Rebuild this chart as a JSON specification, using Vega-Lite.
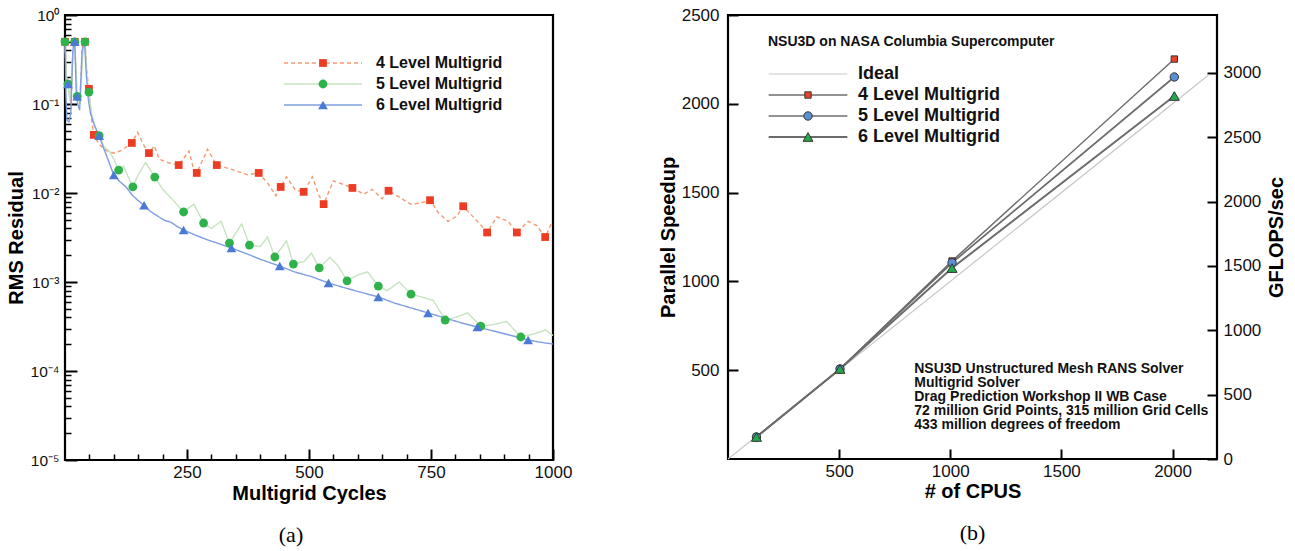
{
  "$schema": "https://vega.github.io/schema/vega-lite/v6.json",
  "background": "#ffffff",
  "padding": {"left": 4, "top": 4, "right": 0, "bottom": 0},
  "spacing": 175,
  "bounds": "flush",
  "datasets": {
    "convLines": [
      {"series": "4 Level Multigrid", "cycle": 0, "rms": 0.5},
      {"series": "4 Level Multigrid", "cycle": 3, "rms": 0.2},
      {"series": "4 Level Multigrid", "cycle": 7, "rms": 0.15},
      {"series": "4 Level Multigrid", "cycle": 12, "rms": 0.1},
      {"series": "4 Level Multigrid", "cycle": 17, "rms": 0.5},
      {"series": "4 Level Multigrid", "cycle": 20, "rms": 0.5},
      {"series": "4 Level Multigrid", "cycle": 24, "rms": 0.14},
      {"series": "4 Level Multigrid", "cycle": 30, "rms": 0.1},
      {"series": "4 Level Multigrid", "cycle": 36, "rms": 0.45},
      {"series": "4 Level Multigrid", "cycle": 41, "rms": 0.5},
      {"series": "4 Level Multigrid", "cycle": 45, "rms": 0.22},
      {"series": "4 Level Multigrid", "cycle": 49, "rms": 0.148},
      {"series": "4 Level Multigrid", "cycle": 54, "rms": 0.07},
      {"series": "4 Level Multigrid", "cycle": 59, "rms": 0.045},
      {"series": "4 Level Multigrid", "cycle": 70, "rms": 0.035},
      {"series": "4 Level Multigrid", "cycle": 85, "rms": 0.03},
      {"series": "4 Level Multigrid", "cycle": 100, "rms": 0.028},
      {"series": "4 Level Multigrid", "cycle": 115, "rms": 0.03},
      {"series": "4 Level Multigrid", "cycle": 137, "rms": 0.0365},
      {"series": "4 Level Multigrid", "cycle": 149, "rms": 0.048},
      {"series": "4 Level Multigrid", "cycle": 162, "rms": 0.034},
      {"series": "4 Level Multigrid", "cycle": 172, "rms": 0.0281},
      {"series": "4 Level Multigrid", "cycle": 183, "rms": 0.034},
      {"series": "4 Level Multigrid", "cycle": 193, "rms": 0.024},
      {"series": "4 Level Multigrid", "cycle": 210, "rms": 0.022},
      {"series": "4 Level Multigrid", "cycle": 233, "rms": 0.0206},
      {"series": "4 Level Multigrid", "cycle": 254, "rms": 0.0296},
      {"series": "4 Level Multigrid", "cycle": 262, "rms": 0.02},
      {"series": "4 Level Multigrid", "cycle": 270, "rms": 0.0168},
      {"series": "4 Level Multigrid", "cycle": 292, "rms": 0.031},
      {"series": "4 Level Multigrid", "cycle": 311, "rms": 0.0206},
      {"series": "4 Level Multigrid", "cycle": 339, "rms": 0.0186},
      {"series": "4 Level Multigrid", "cycle": 374, "rms": 0.016},
      {"series": "4 Level Multigrid", "cycle": 397, "rms": 0.0168},
      {"series": "4 Level Multigrid", "cycle": 415, "rms": 0.013},
      {"series": "4 Level Multigrid", "cycle": 432, "rms": 0.0093},
      {"series": "4 Level Multigrid", "cycle": 442, "rms": 0.0117},
      {"series": "4 Level Multigrid", "cycle": 454, "rms": 0.0152},
      {"series": "4 Level Multigrid", "cycle": 472, "rms": 0.0108},
      {"series": "4 Level Multigrid", "cycle": 489, "rms": 0.0103},
      {"series": "4 Level Multigrid", "cycle": 507, "rms": 0.0152},
      {"series": "4 Level Multigrid", "cycle": 520, "rms": 0.0095},
      {"series": "4 Level Multigrid", "cycle": 530, "rms": 0.0075},
      {"series": "4 Level Multigrid", "cycle": 550, "rms": 0.0137},
      {"series": "4 Level Multigrid", "cycle": 570, "rms": 0.0125},
      {"series": "4 Level Multigrid", "cycle": 589, "rms": 0.0114},
      {"series": "4 Level Multigrid", "cycle": 612, "rms": 0.0097},
      {"series": "4 Level Multigrid", "cycle": 629, "rms": 0.011},
      {"series": "4 Level Multigrid", "cycle": 650, "rms": 0.0086},
      {"series": "4 Level Multigrid", "cycle": 663, "rms": 0.0106},
      {"series": "4 Level Multigrid", "cycle": 685, "rms": 0.009},
      {"series": "4 Level Multigrid", "cycle": 708, "rms": 0.0075},
      {"series": "4 Level Multigrid", "cycle": 728, "rms": 0.0077},
      {"series": "4 Level Multigrid", "cycle": 748, "rms": 0.0083},
      {"series": "4 Level Multigrid", "cycle": 765, "rms": 0.006},
      {"series": "4 Level Multigrid", "cycle": 785, "rms": 0.0048},
      {"series": "4 Level Multigrid", "cycle": 803, "rms": 0.0055},
      {"series": "4 Level Multigrid", "cycle": 816, "rms": 0.0071},
      {"series": "4 Level Multigrid", "cycle": 835, "rms": 0.0055},
      {"series": "4 Level Multigrid", "cycle": 850, "rms": 0.0045},
      {"series": "4 Level Multigrid", "cycle": 865, "rms": 0.0036},
      {"series": "4 Level Multigrid", "cycle": 885, "rms": 0.0054},
      {"series": "4 Level Multigrid", "cycle": 908, "rms": 0.0048},
      {"series": "4 Level Multigrid", "cycle": 926, "rms": 0.0036},
      {"series": "4 Level Multigrid", "cycle": 949, "rms": 0.0048},
      {"series": "4 Level Multigrid", "cycle": 967, "rms": 0.0043},
      {"series": "4 Level Multigrid", "cycle": 984, "rms": 0.0032},
      {"series": "4 Level Multigrid", "cycle": 998, "rms": 0.0047},

      {"series": "5 Level Multigrid", "cycle": 0, "rms": 0.5},
      {"series": "5 Level Multigrid", "cycle": 3, "rms": 0.2},
      {"series": "5 Level Multigrid", "cycle": 6, "rms": 0.168},
      {"series": "5 Level Multigrid", "cycle": 10, "rms": 0.11},
      {"series": "5 Level Multigrid", "cycle": 16, "rms": 0.35},
      {"series": "5 Level Multigrid", "cycle": 20, "rms": 0.5},
      {"series": "5 Level Multigrid", "cycle": 25, "rms": 0.12},
      {"series": "5 Level Multigrid", "cycle": 31, "rms": 0.1},
      {"series": "5 Level Multigrid", "cycle": 37, "rms": 0.4},
      {"series": "5 Level Multigrid", "cycle": 41, "rms": 0.5},
      {"series": "5 Level Multigrid", "cycle": 45, "rms": 0.2},
      {"series": "5 Level Multigrid", "cycle": 49, "rms": 0.136},
      {"series": "5 Level Multigrid", "cycle": 55, "rms": 0.075},
      {"series": "5 Level Multigrid", "cycle": 62, "rms": 0.055},
      {"series": "5 Level Multigrid", "cycle": 70, "rms": 0.044},
      {"series": "5 Level Multigrid", "cycle": 80, "rms": 0.033},
      {"series": "5 Level Multigrid", "cycle": 90, "rms": 0.03},
      {"series": "5 Level Multigrid", "cycle": 100, "rms": 0.024},
      {"series": "5 Level Multigrid", "cycle": 110, "rms": 0.0181},
      {"series": "5 Level Multigrid", "cycle": 120, "rms": 0.02},
      {"series": "5 Level Multigrid", "cycle": 130, "rms": 0.015},
      {"series": "5 Level Multigrid", "cycle": 139, "rms": 0.0117},
      {"series": "5 Level Multigrid", "cycle": 150, "rms": 0.016},
      {"series": "5 Level Multigrid", "cycle": 165, "rms": 0.022},
      {"series": "5 Level Multigrid", "cycle": 184, "rms": 0.0151},
      {"series": "5 Level Multigrid", "cycle": 200, "rms": 0.011},
      {"series": "5 Level Multigrid", "cycle": 220, "rms": 0.0085},
      {"series": "5 Level Multigrid", "cycle": 243, "rms": 0.00612},
      {"series": "5 Level Multigrid", "cycle": 264, "rms": 0.0075},
      {"series": "5 Level Multigrid", "cycle": 284, "rms": 0.0046},
      {"series": "5 Level Multigrid", "cycle": 300, "rms": 0.004},
      {"series": "5 Level Multigrid", "cycle": 320, "rms": 0.0048},
      {"series": "5 Level Multigrid", "cycle": 337, "rms": 0.00274},
      {"series": "5 Level Multigrid", "cycle": 362, "rms": 0.0045},
      {"series": "5 Level Multigrid", "cycle": 378, "rms": 0.0026},
      {"series": "5 Level Multigrid", "cycle": 400, "rms": 0.0025},
      {"series": "5 Level Multigrid", "cycle": 415, "rms": 0.0032},
      {"series": "5 Level Multigrid", "cycle": 430, "rms": 0.00191},
      {"series": "5 Level Multigrid", "cycle": 454, "rms": 0.0029},
      {"series": "5 Level Multigrid", "cycle": 468, "rms": 0.00159},
      {"series": "5 Level Multigrid", "cycle": 490, "rms": 0.0017},
      {"series": "5 Level Multigrid", "cycle": 505, "rms": 0.0021},
      {"series": "5 Level Multigrid", "cycle": 521, "rms": 0.00144},
      {"series": "5 Level Multigrid", "cycle": 543, "rms": 0.0019},
      {"series": "5 Level Multigrid", "cycle": 560, "rms": 0.0015},
      {"series": "5 Level Multigrid", "cycle": 578, "rms": 0.00103},
      {"series": "5 Level Multigrid", "cycle": 600, "rms": 0.0012},
      {"series": "5 Level Multigrid", "cycle": 620, "rms": 0.0013},
      {"series": "5 Level Multigrid", "cycle": 642, "rms": 0.0009},
      {"series": "5 Level Multigrid", "cycle": 660, "rms": 0.0008},
      {"series": "5 Level Multigrid", "cycle": 685, "rms": 0.001},
      {"series": "5 Level Multigrid", "cycle": 709, "rms": 0.00073},
      {"series": "5 Level Multigrid", "cycle": 730, "rms": 0.00068},
      {"series": "5 Level Multigrid", "cycle": 755, "rms": 0.00062},
      {"series": "5 Level Multigrid", "cycle": 779, "rms": 0.000374},
      {"series": "5 Level Multigrid", "cycle": 800, "rms": 0.0004},
      {"series": "5 Level Multigrid", "cycle": 825, "rms": 0.00045},
      {"series": "5 Level Multigrid", "cycle": 852, "rms": 0.00032},
      {"series": "5 Level Multigrid", "cycle": 875, "rms": 0.00033},
      {"series": "5 Level Multigrid", "cycle": 905, "rms": 0.00036},
      {"series": "5 Level Multigrid", "cycle": 934, "rms": 0.000241},
      {"series": "5 Level Multigrid", "cycle": 960, "rms": 0.00026},
      {"series": "5 Level Multigrid", "cycle": 985, "rms": 0.00029},
      {"series": "5 Level Multigrid", "cycle": 1000, "rms": 0.00025},

      {"series": "6 Level Multigrid", "cycle": 0, "rms": 0.5},
      {"series": "6 Level Multigrid", "cycle": 2, "rms": 0.12},
      {"series": "6 Level Multigrid", "cycle": 4, "rms": 0.065},
      {"series": "6 Level Multigrid", "cycle": 8, "rms": 0.063},
      {"series": "6 Level Multigrid", "cycle": 12, "rms": 0.08},
      {"series": "6 Level Multigrid", "cycle": 16, "rms": 0.4},
      {"series": "6 Level Multigrid", "cycle": 20, "rms": 0.5},
      {"series": "6 Level Multigrid", "cycle": 23, "rms": 0.14},
      {"series": "6 Level Multigrid", "cycle": 26, "rms": 0.1},
      {"series": "6 Level Multigrid", "cycle": 30, "rms": 0.085},
      {"series": "6 Level Multigrid", "cycle": 35, "rms": 0.4},
      {"series": "6 Level Multigrid", "cycle": 40, "rms": 0.5},
      {"series": "6 Level Multigrid", "cycle": 44, "rms": 0.2},
      {"series": "6 Level Multigrid", "cycle": 48, "rms": 0.11},
      {"series": "6 Level Multigrid", "cycle": 52, "rms": 0.08},
      {"series": "6 Level Multigrid", "cycle": 60, "rms": 0.058},
      {"series": "6 Level Multigrid", "cycle": 70, "rms": 0.044},
      {"series": "6 Level Multigrid", "cycle": 80, "rms": 0.031},
      {"series": "6 Level Multigrid", "cycle": 90, "rms": 0.0223},
      {"series": "6 Level Multigrid", "cycle": 100, "rms": 0.0159},
      {"series": "6 Level Multigrid", "cycle": 112, "rms": 0.0135},
      {"series": "6 Level Multigrid", "cycle": 125, "rms": 0.0117},
      {"series": "6 Level Multigrid", "cycle": 139, "rms": 0.0093},
      {"series": "6 Level Multigrid", "cycle": 150, "rms": 0.0082},
      {"series": "6 Level Multigrid", "cycle": 162, "rms": 0.0073},
      {"series": "6 Level Multigrid", "cycle": 175, "rms": 0.0062},
      {"series": "6 Level Multigrid", "cycle": 190, "rms": 0.0055},
      {"series": "6 Level Multigrid", "cycle": 205, "rms": 0.0049},
      {"series": "6 Level Multigrid", "cycle": 217, "rms": 0.0047},
      {"series": "6 Level Multigrid", "cycle": 230, "rms": 0.0042},
      {"series": "6 Level Multigrid", "cycle": 243, "rms": 0.00384},
      {"series": "6 Level Multigrid", "cycle": 265, "rms": 0.0034},
      {"series": "6 Level Multigrid", "cycle": 290, "rms": 0.003},
      {"series": "6 Level Multigrid", "cycle": 315, "rms": 0.0027},
      {"series": "6 Level Multigrid", "cycle": 341, "rms": 0.00241},
      {"series": "6 Level Multigrid", "cycle": 370, "rms": 0.0021},
      {"series": "6 Level Multigrid", "cycle": 400, "rms": 0.0018},
      {"series": "6 Level Multigrid", "cycle": 440, "rms": 0.00151},
      {"series": "6 Level Multigrid", "cycle": 470, "rms": 0.0013},
      {"series": "6 Level Multigrid", "cycle": 505, "rms": 0.00115},
      {"series": "6 Level Multigrid", "cycle": 540, "rms": 0.000975},
      {"series": "6 Level Multigrid", "cycle": 570, "rms": 0.00087},
      {"series": "6 Level Multigrid", "cycle": 605, "rms": 0.00077},
      {"series": "6 Level Multigrid", "cycle": 642, "rms": 0.00068},
      {"series": "6 Level Multigrid", "cycle": 675, "rms": 0.00058},
      {"series": "6 Level Multigrid", "cycle": 710, "rms": 0.00051},
      {"series": "6 Level Multigrid", "cycle": 744, "rms": 0.000449},
      {"series": "6 Level Multigrid", "cycle": 775, "rms": 0.0004},
      {"series": "6 Level Multigrid", "cycle": 810, "rms": 0.00035},
      {"series": "6 Level Multigrid", "cycle": 845, "rms": 0.000312},
      {"series": "6 Level Multigrid", "cycle": 880, "rms": 0.00028},
      {"series": "6 Level Multigrid", "cycle": 915, "rms": 0.00025},
      {"series": "6 Level Multigrid", "cycle": 949, "rms": 0.000223},
      {"series": "6 Level Multigrid", "cycle": 975, "rms": 0.00021},
      {"series": "6 Level Multigrid", "cycle": 1000, "rms": 0.000201}
    ],
    "convMarkers": [
      {"series": "4 Level Multigrid", "cycle": 0, "rms": 0.5},
      {"series": "4 Level Multigrid", "cycle": 20, "rms": 0.5},
      {"series": "4 Level Multigrid", "cycle": 41, "rms": 0.5},
      {"series": "4 Level Multigrid", "cycle": 49, "rms": 0.148},
      {"series": "4 Level Multigrid", "cycle": 59, "rms": 0.045},
      {"series": "4 Level Multigrid", "cycle": 137, "rms": 0.0365},
      {"series": "4 Level Multigrid", "cycle": 172, "rms": 0.0281},
      {"series": "4 Level Multigrid", "cycle": 233, "rms": 0.0206},
      {"series": "4 Level Multigrid", "cycle": 270, "rms": 0.0168},
      {"series": "4 Level Multigrid", "cycle": 311, "rms": 0.0206},
      {"series": "4 Level Multigrid", "cycle": 397, "rms": 0.0168},
      {"series": "4 Level Multigrid", "cycle": 442, "rms": 0.0117},
      {"series": "4 Level Multigrid", "cycle": 489, "rms": 0.0103},
      {"series": "4 Level Multigrid", "cycle": 530, "rms": 0.0075},
      {"series": "4 Level Multigrid", "cycle": 589, "rms": 0.0114},
      {"series": "4 Level Multigrid", "cycle": 663, "rms": 0.0106},
      {"series": "4 Level Multigrid", "cycle": 748, "rms": 0.0083},
      {"series": "4 Level Multigrid", "cycle": 816, "rms": 0.0071},
      {"series": "4 Level Multigrid", "cycle": 865, "rms": 0.0036},
      {"series": "4 Level Multigrid", "cycle": 926, "rms": 0.0036},
      {"series": "4 Level Multigrid", "cycle": 984, "rms": 0.0032},
      {"series": "5 Level Multigrid", "cycle": 0, "rms": 0.5},
      {"series": "5 Level Multigrid", "cycle": 20, "rms": 0.5},
      {"series": "5 Level Multigrid", "cycle": 41, "rms": 0.5},
      {"series": "5 Level Multigrid", "cycle": 6, "rms": 0.168},
      {"series": "5 Level Multigrid", "cycle": 25, "rms": 0.122},
      {"series": "5 Level Multigrid", "cycle": 49, "rms": 0.136},
      {"series": "5 Level Multigrid", "cycle": 70, "rms": 0.044},
      {"series": "5 Level Multigrid", "cycle": 110, "rms": 0.0181},
      {"series": "5 Level Multigrid", "cycle": 139, "rms": 0.0117},
      {"series": "5 Level Multigrid", "cycle": 184, "rms": 0.0151},
      {"series": "5 Level Multigrid", "cycle": 243, "rms": 0.00612},
      {"series": "5 Level Multigrid", "cycle": 284, "rms": 0.0046},
      {"series": "5 Level Multigrid", "cycle": 337, "rms": 0.00274},
      {"series": "5 Level Multigrid", "cycle": 378, "rms": 0.0026},
      {"series": "5 Level Multigrid", "cycle": 430, "rms": 0.00191},
      {"series": "5 Level Multigrid", "cycle": 468, "rms": 0.00159},
      {"series": "5 Level Multigrid", "cycle": 521, "rms": 0.00144},
      {"series": "5 Level Multigrid", "cycle": 578, "rms": 0.00103},
      {"series": "5 Level Multigrid", "cycle": 642, "rms": 0.0009},
      {"series": "5 Level Multigrid", "cycle": 709, "rms": 0.00073},
      {"series": "5 Level Multigrid", "cycle": 779, "rms": 0.000374},
      {"series": "5 Level Multigrid", "cycle": 852, "rms": 0.00032},
      {"series": "5 Level Multigrid", "cycle": 934, "rms": 0.000241},
      {"series": "6 Level Multigrid", "cycle": 20, "rms": 0.5},
      {"series": "6 Level Multigrid", "cycle": 6, "rms": 0.168},
      {"series": "6 Level Multigrid", "cycle": 25, "rms": 0.122},
      {"series": "6 Level Multigrid", "cycle": 70, "rms": 0.044},
      {"series": "6 Level Multigrid", "cycle": 100, "rms": 0.0159},
      {"series": "6 Level Multigrid", "cycle": 162, "rms": 0.0073},
      {"series": "6 Level Multigrid", "cycle": 243, "rms": 0.00384},
      {"series": "6 Level Multigrid", "cycle": 341, "rms": 0.00241},
      {"series": "6 Level Multigrid", "cycle": 440, "rms": 0.00151},
      {"series": "6 Level Multigrid", "cycle": 540, "rms": 0.000975},
      {"series": "6 Level Multigrid", "cycle": 642, "rms": 0.00068},
      {"series": "6 Level Multigrid", "cycle": 744, "rms": 0.000449},
      {"series": "6 Level Multigrid", "cycle": 845, "rms": 0.000312},
      {"series": "6 Level Multigrid", "cycle": 949, "rms": 0.000223}
    ],
    "scaling": [
      {"series": "Ideal", "cpus": 0, "speedup": 0},
      {"series": "Ideal", "cpus": 2165, "speedup": 2165},
      {"series": "4 Level Multigrid", "cpus": 128, "speedup": 124},
      {"series": "4 Level Multigrid", "cpus": 504, "speedup": 507},
      {"series": "4 Level Multigrid", "cpus": 1008, "speedup": 1115},
      {"series": "4 Level Multigrid", "cpus": 2008, "speedup": 2252},
      {"series": "5 Level Multigrid", "cpus": 128, "speedup": 124},
      {"series": "5 Level Multigrid", "cpus": 504, "speedup": 507},
      {"series": "5 Level Multigrid", "cpus": 1008, "speedup": 1105},
      {"series": "5 Level Multigrid", "cpus": 2008, "speedup": 2151},
      {"series": "6 Level Multigrid", "cpus": 128, "speedup": 124},
      {"series": "6 Level Multigrid", "cpus": 504, "speedup": 507},
      {"series": "6 Level Multigrid", "cpus": 1008, "speedup": 1075},
      {"series": "6 Level Multigrid", "cpus": 2008, "speedup": 2044}
    ]
  },
  "hconcat": [
    {
      "width": 488,
      "height": 445,
      "title": {"text": "(a)", "orient": "bottom", "anchor": "middle", "font": "Liberation Serif", "fontSize": 22, "fontWeight": "normal", "color": "#000000", "offset": 22, "dx": -18},
      "layer": [
        {
          "data": {"name": "convLines"},
          "mark": {"type": "line", "strokeWidth": 1.4},
          "encoding": {
            "x": {"field": "cycle", "type": "quantitative", "scale": {"domain": [0, 1000], "nice": false},
              "axis": {"orient": "bottom", "values": [250, 500, 750, 1000], "format": "d", "offset": -11, "ticks": true, "tickSize": 11, "domain": false, "grid": false, "labelPadding": 4, "title": "Multigrid Cycles", "titlePadding": 3}},
            "y": {"field": "rms", "type": "quantitative", "scale": {"type": "log", "domain": [0.00001, 1], "nice": false},
              "axis": {"orient": "left", "values": [0.00001, 0.0001, 0.001, 0.01, 0.1, 1], "offset": -12, "ticks": true, "tickSize": 12, "domain": false, "grid": false, "labelPadding": 6, "labelFontSize": 15.5,
                "labelExpr": "datum.value > 0.5 ? '10⁰' : datum.value > 0.05 ? '10⁻¹' : datum.value > 0.005 ? '10⁻²' : datum.value > 0.0005 ? '10⁻³' : datum.value > 0.00005 ? '10⁻⁴' : '10⁻⁵'",
                "title": "RMS Residual", "titlePadding": 4}},
            "color": {"field": "series", "type": "nominal",
              "scale": {"domain": ["4 Level Multigrid", "5 Level Multigrid", "6 Level Multigrid"], "range": ["#f59a70", "#c6e4bf", "#7f9ee2"]},
              "legend": {"orient": "none", "legendX": 221, "legendY": 40, "padding": 0, "title": null, "labelColor": "transparent", "labelFontSize": 16, "labelFontWeight": "bold", "symbolType": "M-9.2,0H9.2", "symbolSize": 72, "symbolStrokeWidth": 1.5, "symbolOffset": 29, "labelOffset": 45, "rowPadding": 5, "symbolOpacity": 1}},
            "strokeDash": {"field": "series", "type": "nominal",
              "scale": {"domain": ["4 Level Multigrid", "5 Level Multigrid", "6 Level Multigrid"], "range": [[4, 3], [1, 0], [1, 0]]},
              "legend": {"orient": "none", "legendX": 221, "legendY": 40, "padding": 0, "title": null, "labelColor": "transparent", "labelFontSize": 16, "labelFontWeight": "bold", "symbolType": "M-9.2,0H9.2", "symbolSize": 72, "symbolStrokeWidth": 1.5, "symbolOffset": 29, "labelOffset": 45, "rowPadding": 5, "symbolOpacity": 1}}
          }
        },
        {
          "data": {"name": "convMarkers"},
          "mark": {"type": "point", "filled": true, "opacity": 1, "strokeWidth": 0},
          "encoding": {
            "x": {"field": "cycle", "type": "quantitative", "scale": {"domain": [0, 1000], "nice": false},
              "axis": {"orient": "bottom", "values": [50, 100, 150, 200, 300, 350, 400, 450, 550, 600, 650, 700, 800, 850, 900, 950], "offset": -6, "ticks": true, "tickSize": 6, "tickWidth": 1.5, "labels": false, "domain": false, "grid": false, "title": null}},
            "y": {"field": "rms", "type": "quantitative", "scale": {"type": "log", "domain": [0.00001, 1], "nice": false},
              "axis": {"orient": "left", "values": [0.00002, 0.00003, 0.00004, 0.00005, 0.00006, 0.00007, 0.00008, 0.00009, 0.0002, 0.0003, 0.0004, 0.0005, 0.0006, 0.0007, 0.0008, 0.0009, 0.002, 0.003, 0.004, 0.005, 0.006, 0.007, 0.008, 0.009, 0.02, 0.03, 0.04, 0.05, 0.06, 0.07, 0.08, 0.09, 0.2, 0.3, 0.4, 0.5, 0.6, 0.7, 0.8, 0.9], "offset": -6, "ticks": true, "tickSize": 6, "tickWidth": 1.5, "labels": false, "domain": false, "grid": false, "title": null}},
            "color": {"field": "series", "type": "nominal",
              "scale": {"domain": ["4 Level Multigrid", "5 Level Multigrid", "6 Level Multigrid"], "range": ["#ee3b23", "#2eb34b", "#4a7ad6"]},
              "legend": {"orient": "none", "legendX": 221, "legendY": 40, "padding": 0, "title": null, "labelColor": "#111111", "labelFontSize": 16, "labelFontWeight": "bold", "symbolSize": 72, "symbolStrokeWidth": 0, "symbolOffset": 29, "labelOffset": 45, "rowPadding": 5, "symbolOpacity": 1}},
            "shape": {"field": "series", "type": "nominal",
              "scale": {"domain": ["4 Level Multigrid", "5 Level Multigrid", "6 Level Multigrid"], "range": ["square", "circle", "triangle-up"]},
              "legend": {"orient": "none", "legendX": 221, "legendY": 40, "padding": 0, "title": null, "labelColor": "#111111", "labelFontSize": 16, "labelFontWeight": "bold", "symbolSize": 72, "symbolStrokeWidth": 0, "symbolOffset": 29, "labelOffset": 45, "rowPadding": 5, "symbolOpacity": 1}},
            "size": {"field": "series", "type": "nominal",
              "scale": {"domain": ["4 Level Multigrid", "5 Level Multigrid", "6 Level Multigrid"], "range": [60, 95, 55]}, "legend": null}
          }
        }
      ],
      "resolve": {
        "scale": {"color": "independent", "shape": "independent", "strokeDash": "independent", "size": "independent"},
        "axis": {"x": "independent", "y": "independent"},
        "legend": {"color": "independent", "shape": "independent", "strokeDash": "independent", "size": "independent"}
      }
    },
    {
      "width": 489,
      "height": 444,
      "title": {"text": "(b)", "orient": "bottom", "anchor": "middle", "font": "Liberation Serif", "fontSize": 22, "fontWeight": "normal", "color": "#000000", "offset": 22},
      "layer": [
        {
          "data": {"name": "scaling"},
          "mark": {"type": "line"},
          "encoding": {
            "x": {"field": "cpus", "type": "quantitative", "scale": {"domain": [0, 2200], "nice": false},
              "axis": {"orient": "bottom", "values": [500, 1000, 1500, 2000], "format": "d", "offset": -10, "ticks": true, "tickSize": 10, "domain": false, "grid": false, "labelPadding": 4, "title": "# of CPUS", "titlePadding": 2}},
            "y": {"field": "speedup", "type": "quantitative", "scale": {"domain": [0, 2500], "nice": false},
              "axis": {"orient": "left", "values": [500, 1000, 1500, 2000, 2500], "format": "d", "offset": -10, "ticks": true, "tickSize": 10, "domain": false, "grid": false, "labelPadding": 9, "title": "Parallel Speedup", "titlePadding": 3}},
            "color": {"field": "series", "type": "nominal",
              "scale": {"domain": ["Ideal", "4 Level Multigrid", "5 Level Multigrid", "6 Level Multigrid"], "range": ["#c8c8c8", "#6c6c6c", "#6c6c6c", "#6c6c6c"]},
              "legend": {"orient": "none", "legendX": 40, "legendY": 20, "padding": 0, "title": "NSU3D on NASA Columbia Supercomputer", "titleLimit": 0, "titleFontSize": 14, "titleFontWeight": "bold", "titleColor": "transparent", "titlePadding": 16, "labelColor": "transparent", "labelFontSize": 18, "labelFontWeight": "bold", "labelLimit": 0, "symbolType": "M-7.5,0H7.5", "symbolSize": 110, "symbolStrokeWidth": 2, "symbolOffset": 31, "labelOffset": 41, "rowPadding": 3, "symbolOpacity": 1}},
            "strokeWidth": {"field": "series", "type": "nominal",
              "scale": {"domain": ["Ideal", "4 Level Multigrid", "5 Level Multigrid", "6 Level Multigrid"], "range": [1.2, 2, 2, 2]}, "legend": null}
          }
        },
        {
          "data": {"name": "scaling"},
          "transform": [{"filter": "datum.series !== 'Ideal'"}],
          "mark": {"type": "point", "filled": true, "opacity": 1, "strokeWidth": 1},
          "encoding": {
            "x": {"field": "cpus", "type": "quantitative", "axis": null},
            "y": {"field": "speedup", "type": "quantitative", "scale": {"domain": [0, 2500], "nice": false}, "axis": null},
            "color": {"field": "series", "type": "nominal",
              "scale": {"domain": ["Ideal", "4 Level Multigrid", "5 Level Multigrid", "6 Level Multigrid"], "range": ["transparent", "#e8432c", "#5b8fd6", "#23a84b"]},
              "legend": {"orient": "none", "legendX": 40, "legendY": 20, "padding": 0, "title": "NSU3D on NASA Columbia Supercomputer", "titleLimit": 0, "titleFontSize": 14, "titleFontWeight": "bold", "titleColor": "#111111", "titlePadding": 16, "labelColor": "#111111", "labelFontSize": 18, "labelFontWeight": "bold", "labelLimit": 0, "symbolSize": 110, "symbolStrokeWidth": 1, "symbolOffset": 31, "labelOffset": 41, "rowPadding": 3, "symbolOpacity": 1}},
            "stroke": {"field": "series", "type": "nominal",
              "scale": {"domain": ["Ideal", "4 Level Multigrid", "5 Level Multigrid", "6 Level Multigrid"], "range": ["transparent", "#333333", "#333333", "#333333"]},
              "legend": {"orient": "none", "legendX": 40, "legendY": 20, "padding": 0, "title": "NSU3D on NASA Columbia Supercomputer", "titleLimit": 0, "titleFontSize": 14, "titleFontWeight": "bold", "titleColor": "#111111", "titlePadding": 16, "labelColor": "#111111", "labelFontSize": 18, "labelFontWeight": "bold", "labelLimit": 0, "symbolSize": 110, "symbolStrokeWidth": 1, "symbolOffset": 31, "labelOffset": 41, "rowPadding": 3, "symbolOpacity": 1}},
            "shape": {"field": "series", "type": "nominal",
              "scale": {"domain": ["Ideal", "4 Level Multigrid", "5 Level Multigrid", "6 Level Multigrid"], "range": ["circle", "square", "circle", "triangle-up"]},
              "legend": {"orient": "none", "legendX": 40, "legendY": 20, "padding": 0, "title": "NSU3D on NASA Columbia Supercomputer", "titleLimit": 0, "titleFontSize": 14, "titleFontWeight": "bold", "titleColor": "#111111", "titlePadding": 16, "labelColor": "#111111", "labelFontSize": 18, "labelFontWeight": "bold", "labelLimit": 0, "symbolSize": 110, "symbolStrokeWidth": 1, "symbolOffset": 31, "labelOffset": 41, "rowPadding": 3, "symbolOpacity": 1}},
            "size": {"field": "series", "type": "nominal",
              "scale": {"domain": ["Ideal", "4 Level Multigrid", "5 Level Multigrid", "6 Level Multigrid"], "range": [10, 100, 125, 85]}, "legend": null}
          }
        },
        {
          "data": {"values": [{}]},
          "mark": {"type": "text", "align": "left", "baseline": "top", "font": "Liberation Sans", "fontWeight": "bold", "fontSize": 14, "lineHeight": 14, "color": "#111111",
            "text": ["NSU3D Unstructured Mesh RANS Solver", "Multigrid Solver", "Drag Prediction Workshop II WB Case", "72 million Grid Points, 315 million Grid Cells", "433 million degrees of freedom"]},
          "encoding": {
            "x": {"datum": 838, "type": "quantitative", "axis": null},
            "y": {"datum": 546, "type": "quantitative", "scale": {"domain": [0, 2500], "nice": false}, "axis": null}
          }
        },
        {
          "data": {"values": [{"gflops": 0}]},
          "mark": {"type": "point", "opacity": 0},
          "encoding": {
            "y": {"field": "gflops", "type": "quantitative", "scale": {"domain": [0, 3450], "nice": false},
              "axis": {"orient": "right", "values": [0, 500, 1000, 1500, 2000, 2500, 3000], "format": "d", "offset": -10, "ticks": true, "tickSize": 10, "domain": false, "grid": false, "labelPadding": 6, "title": "GFLOPS/sec", "titleAngle": 270, "titleBaseline": "top", "titlePadding": 6}}
          }
        }
      ],
      "resolve": {
        "scale": {"y": "independent", "color": "independent", "shape": "independent", "stroke": "independent", "size": "independent", "strokeWidth": "independent"},
        "axis": {"x": "independent"},
        "legend": {"color": "independent", "shape": "independent", "stroke": "independent", "size": "independent", "strokeWidth": "independent"}
      }
    }
  ],
  "config": {
    "font": "Liberation Sans",
    "view": {"stroke": "#000000", "strokeWidth": 2.2},
    "axis": {"domainColor": "#000000", "domainWidth": 2, "tickColor": "#000000", "tickWidth": 2, "labelColor": "#111111", "labelFont": "Liberation Sans", "labelFontSize": 17, "titleFont": "Liberation Sans", "titleFontSize": 20, "titleFontWeight": "bold", "titleColor": "#000000", "labelFlush": false, "labelOverlap": false},
    "legend": {"padding": 0, "symbolOpacity": 1}
  }
}
